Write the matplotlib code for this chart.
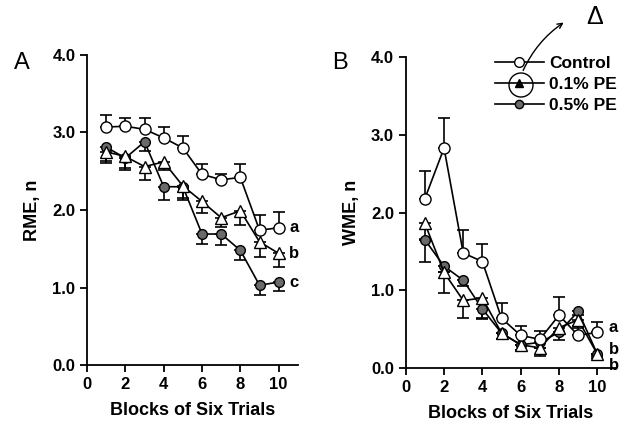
import matplotlib
matplotlib.use("Agg")
import matplotlib.pyplot as plt
import numpy as np
from matplotlib.patches import Ellipse, FancyArrowPatch
from matplotlib.lines import Line2D

plt.rcParams['font.family'] = ['Liberation Sans', 'DejaVu Sans']

blocks = [1, 2, 3, 4, 5, 6, 7, 8, 9, 10]

# Panel A: RME
rme_control = [3.07, 3.08, 3.04, 2.93, 2.80, 2.46, 2.39, 2.42, 1.74, 1.77]
rme_control_err = [0.16, 0.10, 0.14, 0.14, 0.16, 0.13, 0.08, 0.17, 0.20, 0.20]
rme_pe01 = [2.75, 2.69, 2.56, 2.62, 2.31, 2.11, 1.90, 1.99, 1.59, 1.44]
rme_pe01_err = [0.15, 0.15, 0.17, 0.10, 0.15, 0.15, 0.12, 0.18, 0.20, 0.18]
rme_pe05 = [2.81, 2.67, 2.88, 2.30, 2.30, 1.69, 1.69, 1.48, 1.03, 1.07]
rme_pe05_err = [0.18, 0.15, 0.12, 0.17, 0.17, 0.13, 0.14, 0.13, 0.12, 0.12]

# Panel B: WME
wme_control = [2.18, 2.83, 1.48, 1.37, 0.64, 0.42, 0.37, 0.68, 0.42, 0.46]
wme_control_err = [0.35, 0.38, 0.29, 0.23, 0.20, 0.12, 0.11, 0.24, 0.12, 0.13]
wme_pe01 = [1.86, 1.23, 0.87, 0.90, 0.45, 0.30, 0.26, 0.52, 0.62, 0.18]
wme_pe01_err = [0.20, 0.27, 0.22, 0.27, 0.08, 0.07, 0.10, 0.08, 0.10, 0.05]
wme_pe05 = [1.65, 1.31, 1.13, 0.76, 0.45, 0.30, 0.33, 0.46, 0.73, 0.18]
wme_pe05_err = [0.28, 0.07, 0.07, 0.12, 0.07, 0.07, 0.07, 0.10, 0.05, 0.03]

labels = ['Control', '0.1% PE', '0.5% PE']
rme_letters = ['a', 'b', 'c']
wme_letters = ['a', 'b', 'b']

xticks = [0, 2, 4, 6, 8, 10]
yticks = [0.0, 1.0, 2.0, 3.0, 4.0]

fig = plt.figure(figsize=(6.31, 4.29), dpi=100)
axA = fig.add_axes([0.138, 0.149, 0.334, 0.723])
axB = fig.add_axes([0.643, 0.142, 0.334, 0.725])

lw = 1.2
ms = 7
fill05 = '#6a6a6a'

def draw(ax, ctrl, ctrl_e, p1, p1_e, p5, p5_e):
    x = np.array(blocks)
    zeros = np.zeros(len(x))
    ax.errorbar(x, p5, yerr=[p5_e, zeros], fmt='none', ecolor='black',
                elinewidth=lw, capsize=4, capthick=lw, zorder=2)
    ax.errorbar(x, p1, yerr=[p1_e, zeros], fmt='none', ecolor='black',
                elinewidth=lw, capsize=4, capthick=lw, zorder=2)
    ax.errorbar(x, ctrl, yerr=[zeros, ctrl_e], fmt='none', ecolor='black',
                elinewidth=lw, capsize=4, capthick=lw, zorder=2)
    ax.plot(x, p5, '-o', color='black', mfc=fill05, mec='black', ms=ms, lw=lw, zorder=3)
    ax.plot(x, p1, '-^', color='black', mfc='white', mec='black', ms=ms + 1, lw=lw, zorder=4)
    ax.plot(x, ctrl, '-o', color='black', mfc='white', mec='black', ms=ms + 1, lw=lw, zorder=5)
    ax.set_xlim(0, 11)
    ax.set_ylim(0, 4.0)
    ax.set_xticks(xticks)
    ax.set_yticks(yticks)
    ax.set_yticklabels([f'{v:.1f}' for v in yticks])
    ax.spines['top'].set_visible(False)
    ax.spines['right'].set_visible(False)
    ax.spines['left'].set_linewidth(1.3)
    ax.spines['bottom'].set_linewidth(1.3)
    ax.tick_params(direction='out', length=5, width=1.3, labelsize=12)
    for lab in ax.get_xticklabels() + ax.get_yticklabels():
        lab.set_fontweight('bold')
    ax.set_xlabel('Blocks of Six Trials', fontsize=13, fontweight='bold', labelpad=7)

draw(axA, rme_control, rme_control_err, rme_pe01, rme_pe01_err, rme_pe05, rme_pe05_err)
draw(axB, wme_control, wme_control_err, wme_pe01, wme_pe01_err, wme_pe05, wme_pe05_err)

axA.set_ylabel('RME, n', fontsize=13, fontweight='bold', labelpad=8)
axB.set_ylabel('WME, n', fontsize=13, fontweight='bold', labelpad=8)

for lt, yv in zip(rme_letters, [rme_control[-1], rme_pe01[-1], rme_pe05[-1]]):
    axA.text(10.55, yv, lt, fontsize=12, fontweight='bold', va='center', ha='left')
for lt, yv in zip(wme_letters, [0.52, 0.24, 0.03]):
    axB.text(10.6, yv, lt, fontsize=12, fontweight='bold', va='center', ha='left',
             clip_on=False)

fig.text(0.022, 0.853, 'A', fontsize=17, ha='left', va='center')
fig.text(0.526, 0.853, 'B', fontsize=17, ha='left', va='center')

# Legend in panel B
handles = [
    Line2D([], [], color='black', lw=lw, marker='o', mfc='white', mec='black', ms=7),
    Line2D([], [], color='black', lw=lw, marker='^', mfc='black', mec='black', ms=6),
    Line2D([], [], color='black', lw=lw, marker='o', mfc=fill05, mec='black', ms=6),
]
leg = axB.legend(handles, labels, loc='upper right', bbox_to_anchor=(1.075, 1.055),
                 frameon=False, handlelength=2.8, handletextpad=0.3,
                 labelspacing=0.35, prop={'weight': 'bold', 'size': 12.5})

# Hand-drawn annotation
fig.patches.append(Ellipse((521 / 631, 1 - 85 / 429), 24 / 631, 24 / 429,
                           transform=fig.transFigure, fill=False, lw=1.0, ec='black'))
arrow = FancyArrowPatch((522 / 631, 1 - 73 / 429), (566 / 631, 1 - 21 / 429),
                        transform=fig.transFigure, connectionstyle='arc3,rad=-0.15',
                        arrowstyle='->', mutation_scale=9, lw=1.0, color='black')
fig.patches.append(arrow)
fig.text(586 / 631, 1 - 17 / 429, '\u0394', fontsize=18, ha='left', va='center')

fig.savefig('out.png', dpi=100)
